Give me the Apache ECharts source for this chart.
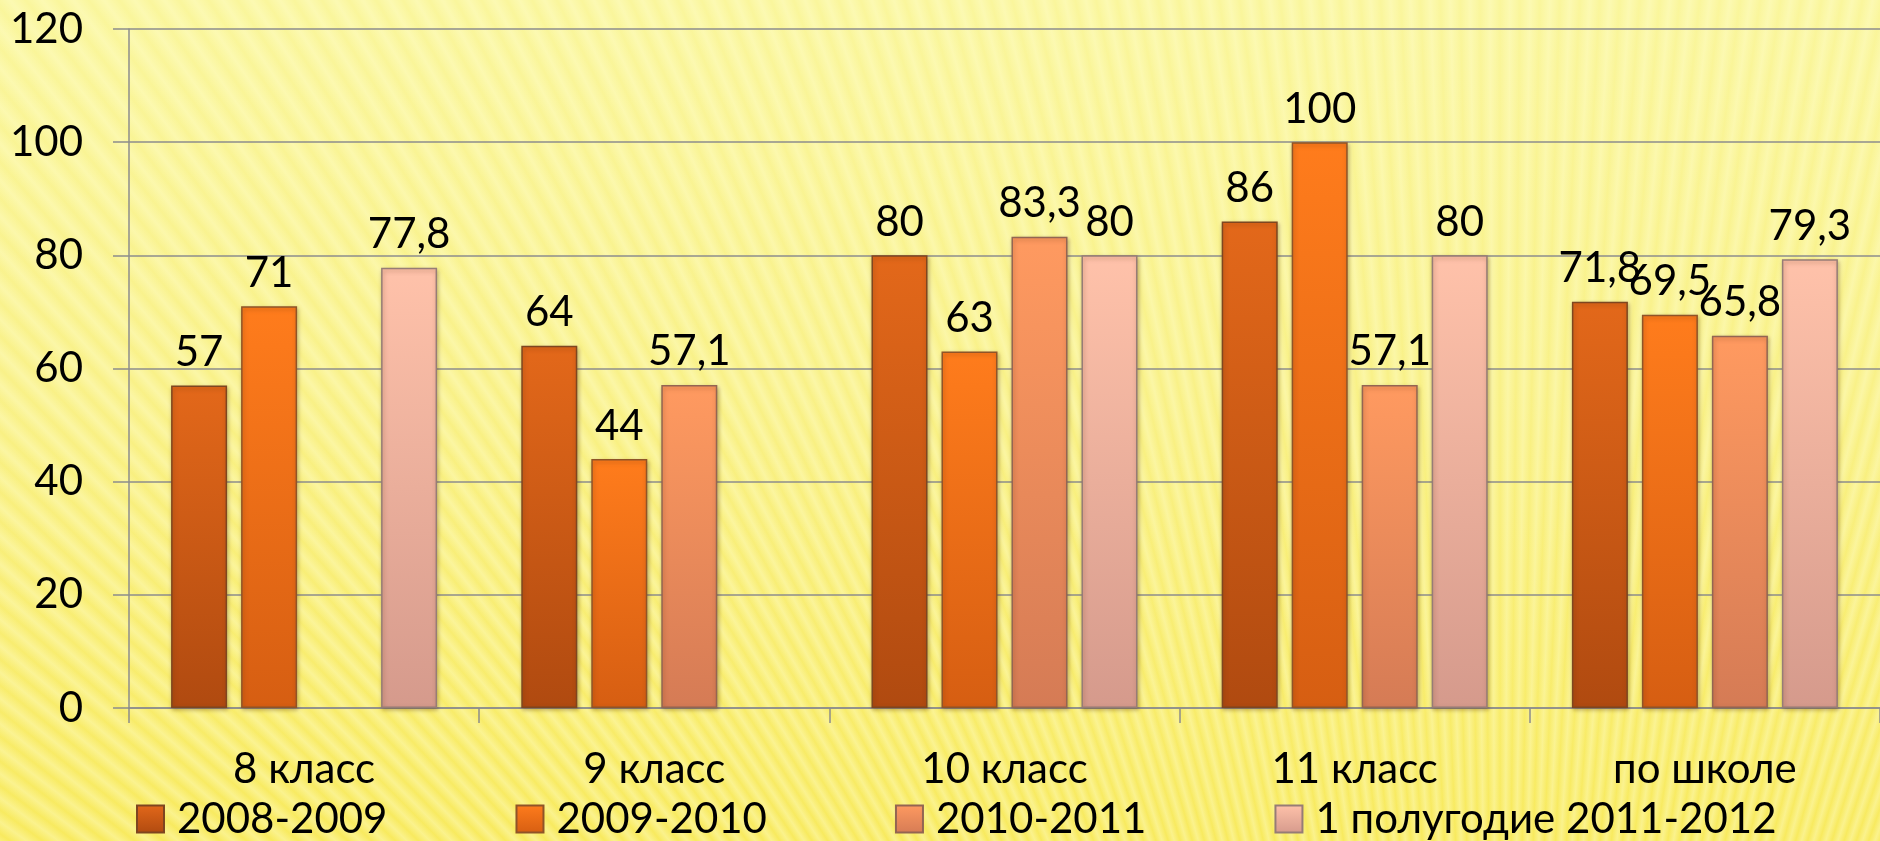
<!DOCTYPE html>
<html>
<head>
<meta charset="utf-8">
<title>Успеваемость по классам</title>
<script src="https://cdn.jsdelivr.net/npm/echarts@6/dist/echarts.min.js"></script>
<style>
  html, body { margin: 0; padding: 0; width: 1880px; height: 841px; overflow: hidden; }
  body {
    background:
      repeating-conic-gradient(from 0deg at 1500px 1900px, rgba(255,255,215,0) 0deg, rgba(255,255,215,0.38) 0.3deg, rgba(255,255,215,0) 0.6deg),
      linear-gradient(180deg, #faf69c 0%, #f9f188 45%, #f8ea5e 100%);
  }
  #chart { width: 1880px; height: 841px; }
</style>
</head>
<body>
<div id="chart"></div>
<script>
// Категории и значения по учебным годам
const categories = ['8 класс', '9 класс', '10 класс', '11 класс', 'по школе'];
const seriesNames = ['2008-2009', '2009-2010', '2010-2011', '1 полугодие 2011-2012'];
const y2008 = [57, 64, 80, 86, 71.8];
const y2009 = [71, 44, 63, 100, 69.5];
const y2010 = [null, 57.1, 83.3, 57.1, 65.8];
const y2011 = [77.8, null, 80, 80, 79.3];
const yTicks = [0, 20, 40, 60, 80, 100, 120];

const FONT = 'Lato, "Open Sans", "Noto Sans", sans-serif';
const FS = 42;

// Вертикальные градиенты столбцов (сверху светлее, снизу темнее)
function grad(top, bottom) {
  return new echarts.graphic.LinearGradient(0, 0, 0, 1, [
    { offset: 0, color: top },
    { offset: 1, color: bottom }
  ]);
}
const fills = [
  grad('#e3681a', '#b04a10'),
  grad('#ff7c1c', '#d65e12'),
  grad('#ff9a60', '#d57b55'),
  grad('#ffc2aa', '#d59a8c')
];
const borders = ['#7e4620', '#8f5428', '#936552', '#967c76'];

const seriesData = [y2008, y2009, y2010, y2011];

const chart = echarts.init(document.getElementById('chart'), null, { renderer: 'canvas' });

chart.setOption({
  backgroundColor: 'transparent',
  animation: false,
  textStyle: { fontFamily: FONT },
  grid: { left: 129, top: 29, width: 1755, height: 679, containLabel: false },
  legend: {
    data: seriesNames,
    left: 131,
    top: 793,
    itemWidth: 27,
    itemHeight: 27,
    itemGap: 128,
    textStyle: { fontSize: FS, color: '#000', fontFamily: FONT, padding: [0, 0, 0, 8] },
    icon: 'rect'
  },
  xAxis: {
    type: 'category',
    data: categories,
    axisLine: { lineStyle: { color: '#8c8c8c', width: 1.5 } },
    axisTick: { show: true, length: 15, lineStyle: { color: '#8c8c8c', width: 1.5 } },
    axisLabel: { fontSize: FS, color: '#000', margin: 40, fontFamily: FONT }
  },
  yAxis: {
    type: 'value',
    min: 0,
    max: 120,
    interval: 20,
    axisLine: { show: true, lineStyle: { color: '#8c8c8c', width: 1.5 } },
    axisTick: { show: true, length: 16, lineStyle: { color: '#8c8c8c', width: 1.5 } },
    splitLine: { lineStyle: { color: '#8c8c8c', width: 1.5 } },
    axisLabel: {
      fontSize: FS, color: '#000', margin: 46, fontFamily: FONT,
      formatter: v => (yTicks.includes(v) ? String(v) : '')
    }
  },
  series: seriesData.map((vals, i) => ({
    name: seriesNames[i],
    type: 'bar',
    data: vals,
    barWidth: 56,
    barGap: '25%',
    itemStyle: {
      color: fills[i],
      borderColor: borders[i],
      borderWidth: 1.5,
      shadowColor: 'rgba(80,40,0,0.35)',
      shadowBlur: 4,
      shadowOffsetX: 1,
      shadowOffsetY: 2
    },
    label: {
      show: true,
      position: 'top',
      distance: 12,
      fontSize: FS,
      color: '#000',
      fontFamily: FONT,
      formatter: p => String(p.value).replace('.', ',')
    }
  }))
});
</script>
</body>
</html>
